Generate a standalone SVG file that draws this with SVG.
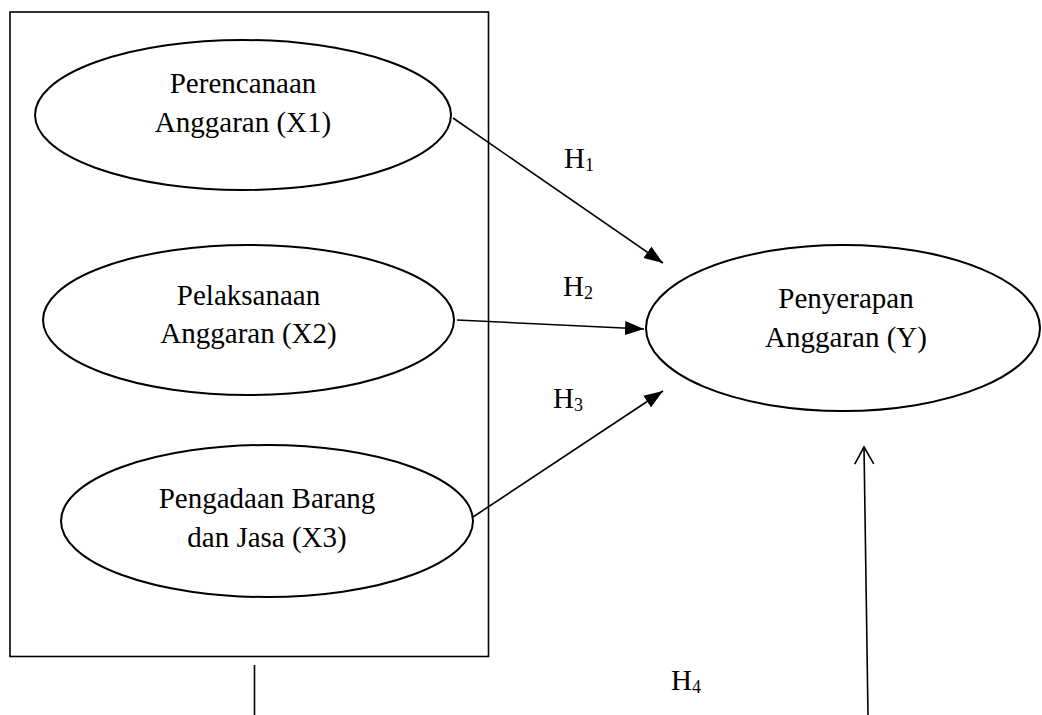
<svg xmlns="http://www.w3.org/2000/svg" width="1042" height="715" viewBox="0 0 1042 715">
<style>
.node ellipse{fill:#fff;stroke:#000;stroke-width:2}
.lbl{font-family:"Liberation Serif","Times New Roman",serif;font-size:29px;fill:#000;text-anchor:middle}
.h{font-family:"Liberation Serif","Times New Roman",serif;font-size:29px;fill:#000}
.h tspan.s{font-size:18px}
.conn line{stroke:#000;stroke-width:1.6;fill:none}
</style>
<defs>
<marker id="tri" markerUnits="userSpaceOnUse" markerWidth="20" markerHeight="16" viewBox="0 0 20 16" refX="19" refY="8" orient="auto">
<path d="M0,1 L19,8 L0,15 Z" fill="#000"/>
</marker>
<marker id="open" markerUnits="userSpaceOnUse" markerWidth="22" markerHeight="22" viewBox="0 0 22 22" refX="20" refY="11" orient="auto">
<path d="M3,1.5 L20,11 L3,20.5" fill="none" stroke="#000" stroke-width="1.6"/>
</marker>
</defs>
<rect id="frame" x="10" y="12" width="478.5" height="644.5" fill="#fff" stroke="#000" stroke-width="1.6"/>
<g id="x1" class="node">
<ellipse cx="243" cy="115" rx="208" ry="75"/>
<text class="lbl" x="243" y="93">Perencanaan</text>
<text class="lbl" x="243" y="132">Anggaran (X1)</text>
</g>
<g id="x2" class="node">
<ellipse cx="248.5" cy="320" rx="205.5" ry="75"/>
<text class="lbl" x="248.5" y="305">Pelaksanaan</text>
<text class="lbl" x="248.5" y="343">Anggaran (X2)</text>
</g>
<g id="x3" class="node">
<ellipse cx="267" cy="521" rx="206" ry="76"/>
<text class="lbl" x="267" y="508">Pengadaan Barang</text>
<text class="lbl" x="267" y="547">dan Jasa (X3)</text>
</g>
<g id="y" class="node">
<ellipse cx="843" cy="328" rx="197" ry="83"/>
<text class="lbl" x="846" y="308">Penyerapan</text>
<text class="lbl" x="846" y="347">Anggaran (Y)</text>
</g>
<g id="connectors" class="conn">
<line x1="453" y1="118" x2="663" y2="263" marker-end="url(#tri)"/>
<line x1="457" y1="320" x2="644" y2="329" marker-end="url(#tri)"/>
<line x1="473" y1="517" x2="663" y2="391" marker-end="url(#tri)"/>
<line x1="868" y1="715" x2="864" y2="447" marker-end="url(#open)" stroke-width="1.4"/>
<line x1="254.5" y1="665" x2="254.5" y2="715" stroke-width="1"/>
</g>
<g id="labels">
<text class="h" x="564" y="168">H<tspan class="s" dy="3">1</tspan></text>
<text class="h" x="563" y="296">H<tspan class="s" dy="3">2</tspan></text>
<text class="h" x="553" y="408">H<tspan class="s" dy="3">3</tspan></text>
<text class="h" x="671" y="690">H<tspan class="s" dy="3">4</tspan></text>
</g>
</svg>
